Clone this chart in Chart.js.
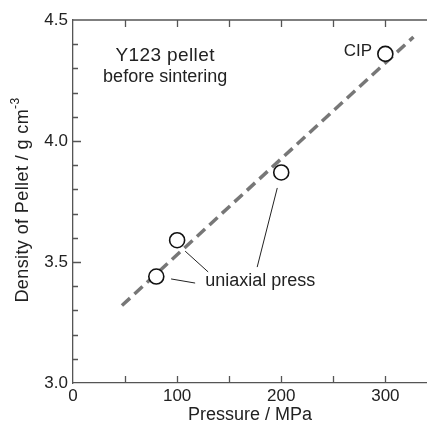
<!DOCTYPE html>
<html>
<head>
<meta charset="utf-8">
<script src="https://cdn.jsdelivr.net/npm/chart.js@4"></script>
<style>
  html, body { margin: 0; padding: 0; background: #fff; }
  #wrap { width: 427px; height: 425px; position: relative; }
</style>
</head>
<body>
<div id="wrap"><canvas id="chartCanvas"></canvas></div>
<script>
// measured points (uniaxial press x3, CIP x1)
const pressure = [80, 100, 200, 300];
const density = [3.44, 3.59, 3.87, 4.36];

// dashed fit line end points
const fitX = [47, 327];
const fitY = [3.32, 4.43];

const xTicks = [0, 100, 200, 300];
const yTicks = [3.0, 3.5, 4.0, 4.5];

const FONT = "'Liberation Sans', Arial, sans-serif";
const INK = "#222";
const AXIS = "#555";

// inward tick marks, top frame, labels and callouts
const decor = {
  id: "decor",
  beforeDatasetsDraw(chart) {
    const { ctx, chartArea: a, scales: { x, y } } = chart;
    ctx.save();
    ctx.strokeStyle = AXIS;
    ctx.lineWidth = 1.3;
    ctx.beginPath();
    ctx.moveTo(a.left, a.top);
    ctx.lineTo(a.right, a.top);
    for (let v = 50; v <= 340; v += 50) {
      const px = Math.round(x.getPixelForValue(v)) + 0.5;
      ctx.moveTo(px, a.bottom);
      ctx.lineTo(px, a.bottom - 7);
      ctx.moveTo(px, a.top);
      ctx.lineTo(px, a.top + 7);
    }
    for (let i = 1; i < 15; i++) {
      const py = Math.round(y.getPixelForValue(3 + i * 0.1)) + 0.5;
      ctx.moveTo(a.left, py);
      ctx.lineTo(a.left + (i % 5 === 0 ? 8 : 5), py);
    }
    ctx.stroke();
    ctx.restore();
  },
  afterDatasetsDraw(chart) {
    const { ctx, scales: { x, y } } = chart;
    const P = (vx, vy) => [x.getPixelForValue(vx), y.getPixelForValue(vy)];
    ctx.save();
    ctx.fillStyle = INK;
    ctx.textBaseline = "alphabetic";

    ctx.textAlign = "center";
    ctx.font = "19px " + FONT;
    ctx.letterSpacing = "0.4px";
    let [tx, ty] = P(88.5, 4.331);
    ctx.fillText("Y123 pellet", tx, ty);
    ctx.letterSpacing = "0px";
    ctx.font = "18px " + FONT;
    [tx, ty] = P(88.5, 4.244);
    ctx.fillText("before sintering", tx, ty);

    ctx.textAlign = "left";
    ctx.font = "17px " + FONT;
    [tx, ty] = P(260, 4.351);
    ctx.fillText("CIP", tx, ty);

    ctx.font = "18px " + FONT;
    [tx, ty] = P(126.9, 3.401);
    ctx.fillText("uniaxial press", tx, ty);

    ctx.strokeStyle = INK;
    ctx.lineWidth = 1;
    const seg = (x1, y1, x2, y2) => {
      const [a1, b1] = P(x1, y1);
      const [a2, b2] = P(x2, y2);
      ctx.moveTo(a1, b1);
      ctx.lineTo(a2, b2);
    };
    ctx.beginPath();
    seg(94.2, 3.43, 117.3, 3.413);
    seg(107.7, 3.545, 129.8, 3.459);
    seg(196.2, 3.806, 176.9, 3.479);
    ctx.stroke();

    // y title with superscript
    ctx.textBaseline = "middle";
    ctx.translate(23, 200);
    ctx.rotate(-Math.PI / 2);
    ctx.letterSpacing = "0.4px";
    const main = "Density of Pellet / g cm";
    ctx.font = "18px " + FONT;
    const w1 = ctx.measureText(main).width;
    ctx.font = "12px " + FONT;
    const w2 = ctx.measureText("-3").width;
    const start = -(w1 + w2) / 2;
    ctx.textAlign = "left";
    ctx.font = "18px " + FONT;
    ctx.fillText(main, start, 0);
    ctx.font = "12px " + FONT;
    ctx.fillText("-3", start + w1, -7);
    ctx.restore();
  }
};

new Chart(document.getElementById("chartCanvas"), {
  data: {
    datasets: [
      {
        type: "line",
        data: fitX.map((v, i) => ({ x: v, y: fitY[i] })),
        borderColor: "#777",
        borderWidth: 3.5,
        borderDash: [11, 6],
        pointRadius: 0,
        fill: false,
        order: 2,
      },
      {
        type: "scatter",
        data: pressure.map((v, i) => ({ x: v, y: density[i] })),
        pointRadius: 7.5,
        pointBorderWidth: 1.6,
        pointBackgroundColor: "#fff",
        pointBorderColor: "#111",
        order: 1,
      },
    ],
  },
  options: {
    responsive: true,
    maintainAspectRatio: false,
    animation: false,
    layout: { autoPadding: false, padding: { top: 20, right: 0, left: 0, bottom: 0 } },
    plugins: { legend: { display: false }, tooltip: { enabled: false } },
    scales: {
      x: {
        type: "linear",
        min: 0,
        max: 340,
        afterBuildTicks: (s) => { s.ticks = xTicks.map((v) => ({ value: v })); },
        afterFit: (s) => { s.height = 42; s.paddingLeft = 0; s.paddingRight = 0; },
        grid: { display: false, drawTicks: false },
        border: { display: true, color: AXIS, width: 1.3 },
        ticks: { color: INK, padding: 3, font: { family: FONT, size: 17 } },
        title: {
          display: true,
          text: "Pressure / MPa",
          color: INK,
          padding: { top: 0, bottom: 0 },
          font: { family: FONT, size: 18, lineHeight: 1.1 },
        },
      },
      y: {
        type: "linear",
        min: 3.0,
        max: 4.5,
        afterBuildTicks: (s) => { s.ticks = yTicks.map((v) => ({ value: v })); },
        afterFit: (s) => { s.width = 73; s.paddingTop = 0; s.paddingBottom = 0; },
        grid: { display: false, drawTicks: false },
        border: { display: true, color: AXIS, width: 1.3 },
        ticks: {
          color: INK,
          padding: 5,
          font: { family: FONT, size: 17 },
          callback: (v) => v.toFixed(1),
        },
      },
    },
  },
  plugins: [decor],
});
</script>
</body>
</html>
